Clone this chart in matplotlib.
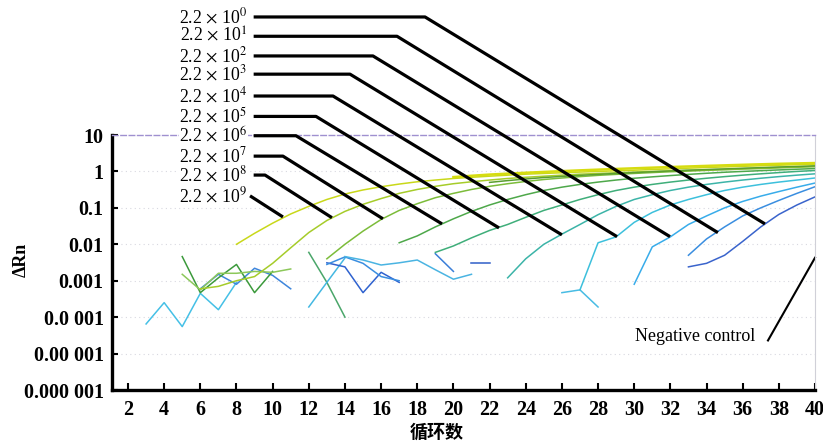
import numpy as np
import matplotlib
matplotlib.use("Agg")
import matplotlib.pyplot as plt
from matplotlib.ticker import NullLocator, FixedLocator, FixedFormatter

plt.rcParams['font.family'] = ['Liberation Serif', 'DejaVu Sans']
plt.rcParams['mathtext.fontset'] = 'stix'

# ---------------- data ----------------
x_ticks = list(range(2, 41, 2))
y_ticks = [1e-6, 1e-5, 1e-4, 1e-3, 1e-2, 1e-1, 1, 10]
y_tick_labels = ['0.000 001', '0.00 001', '0.0 001', '0.001', '0.01', '0.1', '1', '10']
x_label = '循环数'
y_label = 'ΔRn'
neg_label = 'Negative control'
dilution_labels = [r'2.2$\,\times\,$10$^{%d}$' % k for k in range(10)]

# amplification curves (start cycle, one value per cycle)
amp_1e9_start = 8
amp_1e9 = [0.01, 0.02, 0.038, 0.068, 0.11, 0.17, 0.24, 0.31, 0.38, 0.45, 0.52, 0.58,
           0.64, 0.69, 0.74, 0.79, 0.84, 0.88, 0.92, 0.96, 1.0, 1.04, 1.08, 1.13, 1.18,
           1.23, 1.28, 1.33, 1.38, 1.43, 1.48, 1.53, 1.58]
amp_1e8_start = 6
amp_1e8 = [6e-4, 7e-4, 1.0e-3, 1.3e-3, 3e-3, 8e-3, 0.021, 0.045, 0.08, 0.125, 0.18, 0.25,
           0.32, 0.39, 0.46, 0.52, 0.58, 0.64, 0.69, 0.74, 0.79, 0.84, 0.88, 0.92, 0.96,
           1.0, 1.04, 1.08, 1.12, 1.16, 1.2, 1.25, 1.3, 1.35, 1.4]
amp_1e7_start = 13
amp_1e7 = [0.004, 0.01, 0.023, 0.048, 0.085, 0.13, 0.19, 0.25, 0.32, 0.39, 0.46, 0.53,
           0.6, 0.66, 0.72, 0.78, 0.83, 0.88, 0.93, 0.98, 1.02, 1.07, 1.11, 1.16, 1.2,
           1.25, 1.3, 1.35]
amp_1e6_start = 17
amp_1e6 = [0.011, 0.017, 0.03, 0.05, 0.08, 0.12, 0.17, 0.23, 0.3, 0.37, 0.44, 0.51,
           0.58, 0.65, 0.71, 0.77, 0.83, 0.89, 0.95, 1.0, 1.05, 1.1, 1.15, 1.2]
amp_1e5_start = 19
amp_1e5 = [0.006, 0.009, 0.015, 0.024, 0.035, 0.055, 0.085, 0.12, 0.17, 0.23, 0.3,
           0.37, 0.44, 0.51, 0.58, 0.65, 0.72, 0.79, 0.86, 0.93, 1.0, 1.06]
amp_1e4_start = 23
amp_1e4 = [0.0012, 0.004, 0.01, 0.019, 0.035, 0.065, 0.11, 0.17, 0.23, 0.3, 0.37,
           0.44, 0.51, 0.58, 0.65, 0.72, 0.79, 0.86]
amp_1e3_start = 27
amp_1e3 = [5.6e-4, 0.011, 0.016, 0.04, 0.075, 0.12, 0.17, 0.23, 0.3, 0.37, 0.44,
           0.51, 0.58, 0.66]
amp_1e2_start = 30
amp_1e2 = [8e-4, 0.0085, 0.016, 0.035, 0.06, 0.1, 0.15, 0.21, 0.28, 0.37, 0.48]
amp_1e1_start = 33
amp_1e1 = [0.005, 0.014, 0.03, 0.06, 0.1, 0.16, 0.25, 0.38]
amp_1e0_start = 33
amp_1e0 = [0.0024, 0.003, 0.005, 0.012, 0.03, 0.066, 0.12, 0.2]

# replicate curves on the plateau
rep_a_start = 20
rep_a = [0.7, 0.76, 0.82, 0.87, 0.92, 0.97, 1.02, 1.07, 1.12, 1.17, 1.22, 1.27, 1.32,
         1.37, 1.42, 1.47, 1.52, 1.57, 1.62, 1.66, 1.7]
rep_b_start = 22
rep_b = [0.5, 0.56, 0.62, 0.68, 0.73, 0.78, 0.83, 0.88, 0.93, 0.98, 1.03, 1.08, 1.12,
         1.17, 1.22, 1.27, 1.32, 1.37, 1.42]

# background noise fragments
noise_1_start, noise_1 = 3, [6.5e-5, 2.5e-4, 5.5e-5, 4.5e-4, 1.6e-4, 9e-4]
noise_2_start, noise_2 = 6, [6e-4, 1.5e-3, 8e-4, 2.2e-3, 1.4e-3, 6e-4]
noise_3_start, noise_3 = 5, [4.6e-3, 4.7e-4, 1.2e-3, 2.8e-3, 4.7e-4, 1.8e-3]
noise_4_start, noise_4 = 5, [1.5e-3, 5.6e-4, 1.6e-3, 1.6e-3, 1.8e-3, 1.7e-3, 2.1e-3]
noise_5_start, noise_5 = 12, [6e-3, 9e-4, 1e-4]
noise_6_start, noise_6 = 12, [1.9e-4, 9e-4, 4.2e-3]
noise_7_start, noise_7 = 13, [3.1e-3, 2.4e-3, 4.7e-4, 1.7e-3, 9e-4]
noise_8_start, noise_8 = 13, [2.8e-3, 4.5e-3, 3.0e-3, 1.3e-3, 1.0e-3]
noise_9_start, noise_9 = 14, [4.6e-3, 3.7e-3, 2.7e-3, 3.1e-3, 3.7e-3, 2.0e-3, 1.1e-3, 1.5e-3]
noise_10_start, noise_10 = 19, [5.5e-3, 1.8e-3]
noise_11_start, noise_11 = 21, [3.1e-3, 3.1e-3]
noise_12_start, noise_12 = 26, [4.7e-4, 5.6e-4, 1.9e-4]

# leader lines for the dilution labels (label height as log10, knee cycle, end point)
leader_label_log = [4.24, 3.71, 3.17, 2.67, 2.07, 1.51, 0.98, 0.42, -0.10, -0.67]
leader_knee_x = [18.43, 16.88, 15.55, 14.28, 13.34, 12.40, 11.29, 10.57, 9.58, 8.75]
leader_end_x = [37.23, 34.63, 31.98, 29.05, 26.0, 22.52, 19.37, 16.10, 13.28, 10.57]
leader_end_log = [-1.44, -1.68, -1.79, -1.79, -1.74, -1.55, -1.44, -1.30, -1.27, -1.25]

# ---------------- figure ----------------
W, H = 823, 445
fig = plt.figure(figsize=(W / 100, H / 100), dpi=100)
ax = fig.add_axes([112 / W, 1 - 390 / H, (815 - 112) / W, (390 - 135) / H])
ax.set_yscale('log')
ax.set_xlim(1.115, 40)
ax.set_ylim(1e-6, 10)

for yt in y_ticks[:-1]:
    ax.axhline(yt, color='#d8d8e0', lw=0.8, ls=(0, (1, 3)), zorder=0)


def draw(start, vals, color, lw=1.1, z=2):
    xs = np.arange(start, start + len(vals))
    ax.plot(xs, vals, color=color, lw=lw, zorder=z, solid_joinstyle='round')


# noise
draw(noise_1_start, noise_1, '#45c0e6')
draw(noise_2_start, noise_2, '#3f86dc')
draw(noise_3_start, noise_3, '#3c9a3c')
draw(noise_4_start, noise_4, '#8cc85a')
draw(noise_5_start, noise_5, '#4aa66a')
draw(noise_6_start, noise_6, '#44b8e2')
draw(noise_7_start, noise_7, '#2f62cf')
draw(noise_8_start, noise_8, '#3a8ee0')
draw(noise_9_start, noise_9, '#4ab4e2')
draw(noise_10_start, noise_10, '#3a7ed8')
draw(noise_11_start, noise_11, '#2f5ec8')
draw(noise_12_start, noise_12, '#48bce4')

# amplification curves
draw(amp_1e0_start, amp_1e0, '#3a64cc')
draw(amp_1e1_start, amp_1e1, '#3a8ee0')
draw(amp_1e2_start, amp_1e2, '#38acea')
draw(amp_1e3_start, amp_1e3, '#3dc0dc')
draw(amp_1e4_start, amp_1e4, '#3cb4a8')
draw(amp_1e5_start, amp_1e5, '#3fae7a')
draw(amp_1e6_start, amp_1e6, '#4ea84a')
draw(amp_1e7_start, amp_1e7, '#7cbc3a')
draw(amp_1e8_start, amp_1e8, '#a6cc2a')
draw(rep_b_start, rep_b, '#5a9e30')
draw(amp_1e9_start, amp_1e9, '#c9d81a')
draw(rep_a_start, rep_a, '#d6dc10', lw=1.8)

# spines and ticks
for s in ['left', 'bottom']:
    ax.spines[s].set_linewidth(2.4)
ax.spines['top'].set_color('#9f90d0')
ax.spines['top'].set_linestyle((0, (4, 2)))
ax.spines['top'].set_linewidth(1.0)
ax.spines['right'].set_color('#d0d0d8')
ax.spines['right'].set_linewidth(0.8)

ax.xaxis.set_major_locator(FixedLocator(x_ticks))
ax.xaxis.set_major_formatter(FixedFormatter([str(t) for t in x_ticks]))
ax.yaxis.set_major_locator(FixedLocator(y_ticks))
ax.yaxis.set_major_formatter(FixedFormatter(y_tick_labels))
ax.yaxis.set_minor_locator(NullLocator())
ax.tick_params(axis='x', direction='in', length=5, width=1.5, labelsize=14.5, pad=7,
               top=False)
ax.tick_params(axis='y', direction='in', length=4, width=1.5, labelsize=14.5, pad=6,
               right=False)
for lab in ax.get_xticklabels() + ax.get_yticklabels():
    lab.set_fontweight('bold')

ax.set_xlabel(x_label, fontsize=13, family=['Noto Sans CJK SC', 'DejaVu Sans'],
              fontweight='bold')
ax.xaxis.set_label_coords((437 - 112) / 703, (390 - 423) / 255)
ax.set_ylabel(y_label, fontsize=13, fontweight='bold')
ax.yaxis.set_label_coords((30 - 112) / 703, 0.51)

# dilution labels and leader lines
for i, lab in enumerate(dilution_labels):
    ly = 10 ** leader_label_log[i]
    ax.text(8.62, ly, lab, ha='right', va='center', fontsize=12.8, clip_on=False,
            bbox=dict(fc='white', ec='none', pad=0.0), zorder=5)
    if i < 9:
        xs = [8.95, leader_knee_x[i], leader_end_x[i]]
        ys = [ly, ly, 10 ** leader_end_log[i]]
    else:
        xs = [leader_knee_x[i], leader_end_x[i]]
        ys = [ly, 10 ** leader_end_log[i]]
    ax.plot(xs, ys, color='black', lw=2.3, clip_on=False, zorder=6,
            solid_capstyle='butt')

# negative control
ax.text(33.36, 10 ** -4.53, neg_label, ha='center', va='center', fontsize=13)
ax.plot([37.4, 40.0], [10 ** -4.64, 10 ** -2.37], color='black', lw=1.5, clip_on=False)

fig.savefig('out.png', dpi=100)
